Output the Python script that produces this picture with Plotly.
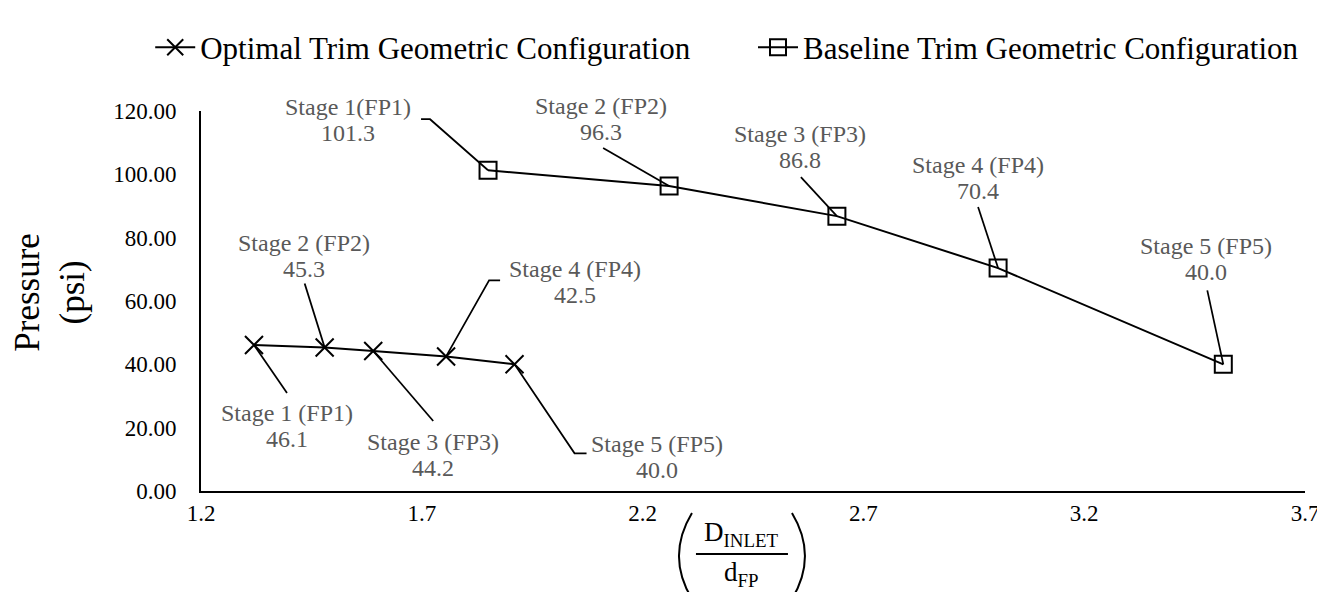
import plotly.graph_objects as go

# ---------------- data ----------------
opt_x = [1.32, 1.48, 1.59, 1.755, 1.91]
opt_y = [46.1, 45.3, 44.2, 42.5, 40.0]
opt_labels = ["Stage 1 (FP1)", "Stage 2 (FP2)", "Stage 3 (FP3)", "Stage 4 (FP4)", "Stage 5 (FP5)"]

base_x = [1.85, 2.26, 2.64, 3.005, 3.515]
base_y = [101.3, 96.3, 86.8, 70.4, 40.0]
base_labels = ["Stage 1(FP1)", "Stage 2 (FP2)", "Stage 3 (FP3)", "Stage 4 (FP4)", "Stage 5 (FP5)"]

x_ticks = [1.2, 1.7, 2.2, 2.7, 3.2, 3.7]
y_ticks = [0, 20, 40, 60, 80, 100, 120]

# ---------------- label layout (pixel offsets from the point; dy down positive) ----------------
opt_text_off = [(33, 81), (-21, -92), (60, 104), (129, -74), (142, 93)]
opt_leader = [[(33, 48), (0, 0)], [(-20, -64), (0, 0)], [(60, 70), (0, 0)],
              [(54, -76), (43, -76), (0, 0)], [(72, 89), (60, 89), (0, 0)]]
base_text_off = [(-140, -50), (-68, -67), (-37, -69), (-20, -90), (-17, -105)]
base_leader = [[(-67, -51), (-58, -51), (0, 0)], [(-66, -38), (0, 0)], [(-36, -39), (0, 0)],
               [(-20, -61), (0, 0)], [(-16, -74), (0, 0)]]

FONT = "Liberation Serif, Times New Roman, serif"
LBL_COLOR = "#595959"

fig = go.Figure()
fig.add_trace(go.Scatter(
    x=opt_x, y=opt_y, mode="lines+markers",
    name="Optimal Trim Geometric Configuration", legend="legend",
    line=dict(color="black", width=2),
    marker=dict(symbol="x-thin", size=18, color="black", line=dict(color="black", width=2)),
))
fig.add_trace(go.Scatter(
    x=base_x, y=base_y, mode="lines+markers",
    name="Baseline Trim Geometric Configuration", legend="legend2",
    line=dict(color="black", width=2),
    marker=dict(symbol="square-open", size=17, color="black", line=dict(color="black", width=2)),
))

annotations = []
shapes = []


def add_labels(xs, ys, labels, text_off, leaders):
    for xv, yv, lab, (dx, dy), lead in zip(xs, ys, labels, text_off, leaders):
        annotations.append(dict(x=xv, y=yv, xref="x", yref="y", text=lab, showarrow=False,
                                xanchor="center", yanchor="middle",
                                xshift=dx, yshift=-(dy - 13),
                                font=dict(family=FONT, size=24, color=LBL_COLOR)))
        annotations.append(dict(x=xv, y=yv, xref="x", yref="y", text=f"{yv:.1f}", showarrow=False,
                                xanchor="center", yanchor="middle",
                                xshift=dx, yshift=-(dy + 13),
                                font=dict(family=FONT, size=24, color=LBL_COLOR)))
        path = "M " + " L ".join(f"{px},{-py}" for px, py in lead)
        shapes.append(dict(type="path", xref="x", yref="y", xsizemode="pixel", ysizemode="pixel",
                           xanchor=xv, yanchor=yv, path=path,
                           line=dict(color="black", width=1.75)))


add_labels(opt_x, opt_y, opt_labels, opt_text_off, opt_leader)
add_labels(base_x, base_y, base_labels, base_text_off, base_leader)

# y-axis title
annotations.append(dict(x=-0.136, y=0.524, xref="paper", yref="paper", text="Pressure<br>(psi)",
                        showarrow=False, textangle=-90, xanchor="center", yanchor="middle",
                        font=dict(family=FONT, size=35, color="black")))

# x-axis title: (D_INLET / d_FP), anchored in pixels below the plot bottom
fx = 0.490
BAR = -63  # pixels from plot bottom
annotations.append(dict(x=fx, y=0, xref="paper", yref="paper",
                        text="D<sub>INLET</sub>", showarrow=False,
                        xanchor="center", yanchor="bottom", yshift=BAR + 1,
                        font=dict(family=FONT, size=27, color="black")))
annotations.append(dict(x=fx, y=0, xref="paper", yref="paper",
                        text="d<sub>FP</sub>", showarrow=False,
                        xanchor="center", yanchor="top", yshift=BAR - 1,
                        font=dict(family=FONT, size=27, color="black")))
shapes.append(dict(type="line", xref="paper", yref="paper", xsizemode="pixel", ysizemode="pixel",
                   xanchor=fx, yanchor=0, x0=-46, x1=46, y0=BAR, y1=BAR,
                   line=dict(color="black", width=2)))
shapes.append(dict(type="path", xref="paper", yref="paper", xsizemode="pixel", ysizemode="pixel",
                   xanchor=fx, yanchor=0, path=f"M -50,{BAR + 41} Q -76,{BAR - 2} -50,{BAR - 45}",
                   line=dict(color="black", width=2)))
shapes.append(dict(type="path", xref="paper", yref="paper", xsizemode="pixel", ysizemode="pixel",
                   xanchor=fx, yanchor=0, path=f"M 50,{BAR + 41} Q 76,{BAR - 2} 50,{BAR - 45}",
                   line=dict(color="black", width=2)))

legend_common = dict(orientation="h", y=1.238, xanchor="left", yanchor="top",
                     font=dict(family=FONT, size=31, color="black"),
                     bgcolor="rgba(0,0,0,0)", itemwidth=40)

fig.update_layout(
    width=1325, height=592,
    margin=dict(l=193, r=28, t=94, b=109),
    paper_bgcolor="white", plot_bgcolor="white",
    font=dict(family=FONT, color="black"),
    showlegend=True,
    legend=dict(x=-0.046, **legend_common),
    legend2=dict(x=0.500, **legend_common),
    xaxis=dict(range=[1.2, 3.7], tickvals=x_ticks, ticktext=[f"{v:.1f}" for v in x_ticks],
               showgrid=False, zeroline=False, showline=True, linecolor="black", linewidth=2,
               ticks="", tickfont=dict(family=FONT, size=23, color="black")),
    yaxis=dict(range=[0, 120], tickvals=y_ticks, ticktext=[f"{v:.2f}" for v in y_ticks],
               showgrid=False, zeroline=False, showline=True, linecolor="black", linewidth=2,
               ticks="", ticklabelstandoff=18, tickfont=dict(family=FONT, size=23, color="black")),
    annotations=annotations,
    shapes=shapes,
)

fig.write_html("out.html")
